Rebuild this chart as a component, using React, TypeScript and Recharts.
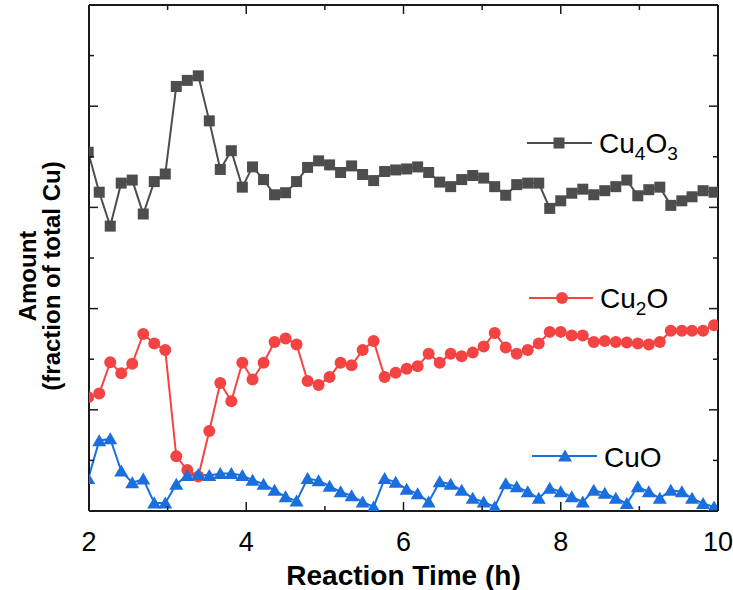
import React from "react";
import { LineChart, Line, XAxis, YAxis } from "recharts";

// reaction time (h), sampled about every 8.4 min
const times = [
  1.99, 2.13, 2.27, 2.41, 2.55, 2.69, 2.83, 2.97, 3.11, 3.25, 3.39, 3.53, 3.67, 3.81, 3.95,
  4.08, 4.22, 4.36, 4.5, 4.64, 4.78, 4.92, 5.06, 5.2, 5.34, 5.48, 5.62, 5.76, 5.9, 6.04,
  6.18, 6.32, 6.46, 6.6, 6.74, 6.88, 7.02, 7.16, 7.3, 7.44, 7.58, 7.72, 7.86, 8.0, 8.14,
  8.28, 8.42, 8.56, 8.7, 8.84, 8.98, 9.12, 9.26, 9.4, 9.54, 9.67, 9.81, 9.95,
];

// amounts in y-axis tick units (axis has 10 unlabelled divisions)
const cu4o3 = [
  7.09, 6.3, 5.63, 6.48, 6.54, 5.87, 6.51, 6.66, 8.39, 8.51, 8.6, 7.71, 6.75, 7.12, 6.4,
  6.8, 6.55, 6.25, 6.29, 6.51, 6.79, 6.92, 6.84, 6.69, 6.82, 6.65, 6.53, 6.71, 6.74, 6.76,
  6.8, 6.69, 6.5, 6.41, 6.55, 6.63, 6.58, 6.41, 6.24, 6.45, 6.48, 6.48, 5.98, 6.13, 6.28,
  6.36, 6.25, 6.33, 6.41, 6.54, 6.23, 6.35, 6.4, 6.04, 6.13, 6.21, 6.33, 6.3,
];

const cu2o = [
  2.25, 2.32, 2.94, 2.72, 2.91, 3.5, 3.31, 3.18, 1.08, 0.81, 0.68, 1.58, 2.53, 2.17, 2.93,
  2.6, 2.93, 3.34, 3.41, 3.29, 2.57, 2.49, 2.65, 2.93, 2.88, 3.18, 3.36, 2.65, 2.73, 2.81,
  2.86, 3.11, 2.93, 3.11, 3.06, 3.13, 3.25, 3.52, 3.23, 3.11, 3.18, 3.31, 3.54, 3.54, 3.47,
  3.47, 3.34, 3.36, 3.34, 3.33, 3.31, 3.29, 3.34, 3.56, 3.56, 3.56, 3.56, 3.67,
];

const cuo = [
  0.64, 1.39, 1.43, 0.79, 0.56, 0.63, 0.16, 0.16, 0.53, 0.7, 0.72, 0.7, 0.74, 0.74, 0.7,
  0.61, 0.53, 0.41, 0.28, 0.2, 0.64, 0.6, 0.49, 0.38, 0.3, 0.18, 0.08, 0.64, 0.57, 0.43,
  0.34, 0.18, 0.58, 0.53, 0.41, 0.25, 0.18, 0.08, 0.54, 0.48, 0.38, 0.25, 0.45, 0.38, 0.28,
  0.18, 0.41, 0.35, 0.25, 0.15, 0.48, 0.38, 0.25, 0.41, 0.38, 0.25, 0.15, 0.08,
];

const xTicks = [2, 3, 4, 5, 6, 7, 8, 9, 10];
const yTicks = [0, 1, 2, 3, 4, 5, 6, 7, 8, 9, 10];

const GRAY = "#4d4d4d";
const RED = "#f44343";
const BLUE = "#1a6fdf";
const AXIS = "#1a1a1a";
const FONT = "'Liberation Sans', Arial, sans-serif";

const data = times.map((t, i) => ({ t, cu4o3: cu4o3[i], cu2o: cu2o[i], cuo: cuo[i] }));

const square = (p: any) => (
  <rect key={p.index} x={p.cx - 5.5} y={p.cy - 5.5} width={11} height={11} fill={GRAY} />
);
const circle = (p: any) => <circle key={p.index} cx={p.cx} cy={p.cy} r={6} fill={RED} />;
const triangle = (p: any) => (
  <polygon
    key={p.index}
    points={`${p.cx},${p.cy - 6.5} ${p.cx - 7},${p.cy + 5.5} ${p.cx + 7},${p.cy + 5.5}`}
    fill={BLUE}
  />
);

const tickLen = (v: number) => (v % 2 === 0 ? 9 : 5);

const BottomTick = ({ x, y, payload }: any) => (
  <g>
    <line x1={x} x2={x} y1={y} y2={y - tickLen(payload.value)} stroke={AXIS} strokeWidth={1.5} />
    {payload.value % 2 === 0 && (
      <text x={x} y={y + 40} textAnchor="middle" fontSize={27} fontFamily={FONT} fill="#000">
        {payload.value}
      </text>
    )}
  </g>
);
const TopTick = ({ x, y, payload }: any) => (
  <line x1={x} x2={x} y1={y} y2={y + tickLen(payload.value)} stroke={AXIS} strokeWidth={1.5} />
);
const LeftTick = ({ x, y, payload }: any) => (
  <line x1={x} x2={x + tickLen(payload.value)} y1={y} y2={y} stroke={AXIS} strokeWidth={1.5} />
);
const RightTick = ({ x, y, payload }: any) => (
  <line x1={x} x2={x - tickLen(payload.value)} y1={y} y2={y} stroke={AXIS} strokeWidth={1.5} />
);

const axisLine = { stroke: AXIS, strokeWidth: 2 };

export default function App() {
  return (
    <div style={{ position: "absolute", left: 0, top: 0, width: 733, height: 590, background: "#fff" }}>
      <LineChart width={733} height={590} data={data} margin={{ top: 4, right: 0, bottom: 0, left: 0 }}>
        <XAxis
          dataKey="t"
          type="number"
          domain={[2, 10]}
          allowDataOverflow
          ticks={xTicks}
          interval={0}
          height={79}
          tickSize={0}
          tickMargin={0}
          tickLine={false}
          axisLine={axisLine}
          tick={<BottomTick />}
          label={{
            value: "Reaction Time (h)",
            position: "insideBottom",
            offset: 5,
            fontSize: 28,
            fontWeight: "bold",
            fontFamily: FONT,
            fill: "#000",
          }}
        />
        <XAxis
          xAxisId="top"
          dataKey="t"
          orientation="top"
          type="number"
          domain={[2, 10]}
          allowDataOverflow
          ticks={xTicks}
          interval={0}
          height={1}
          tickSize={0}
          tickMargin={0}
          tickLine={false}
          axisLine={axisLine}
          tick={<TopTick />}
        />
        <YAxis
          type="number"
          domain={[0, 10]}
          allowDataOverflow
          ticks={yTicks}
          interval={0}
          width={89}
          tickSize={0}
          tickMargin={0}
          tickLine={false}
          axisLine={axisLine}
          tick={<LeftTick />}
        />
        <YAxis
          yAxisId="right"
          orientation="right"
          type="number"
          domain={[0, 10]}
          allowDataOverflow
          ticks={yTicks}
          interval={0}
          width={15}
          tickSize={0}
          tickMargin={0}
          tickLine={false}
          axisLine={axisLine}
          tick={<RightTick />}
        />
        <Line dataKey="cu4o3" stroke={GRAY} strokeWidth={2} dot={square} isAnimationActive={false} />
        <Line dataKey="cu2o" stroke={RED} strokeWidth={2} dot={circle} isAnimationActive={false} />
        <Line
          dataKey="cuo"
          xAxisId="top"
          yAxisId="right"
          stroke={BLUE}
          strokeWidth={2}
          dot={triangle}
          isAnimationActive={false}
        />
      </LineChart>
      <svg
        width={733}
        height={590}
        style={{ position: "absolute", left: 0, top: 0, pointerEvents: "none" }}
        fontFamily={FONT}
      >
        <g transform="translate(36,276) rotate(-90)">
          <text textAnchor="middle" fontSize={24} fontWeight="bold" fill="#000">Amount</text>
        </g>
        <g transform="translate(60,276) rotate(-90)">
          <text textAnchor="middle" fontSize={24} fontWeight="bold" fill="#000">(fraction of total Cu)</text>
        </g>

        <line x1={527} x2={592} y1={143} y2={143} stroke={GRAY} strokeWidth={2} />
        <rect x={553.5} y={137.5} width={11} height={11} fill={GRAY} />
        <text x={599} y={153} fontSize={28} fill="#000">
          Cu<tspan fontSize={19} dy={7}>4</tspan>
          <tspan dy={-7}>O</tspan>
          <tspan fontSize={19} dy={7}>3</tspan>
        </text>

        <line x1={529} x2={593} y1={298} y2={298} stroke={RED} strokeWidth={2} />
        <circle cx={562} cy={298} r={6} fill={RED} />
        <text x={600} y={308} fontSize={28} fill="#000">
          Cu<tspan fontSize={19} dy={7}>2</tspan>
          <tspan dy={-7}>O</tspan>
        </text>

        <line x1={532} x2={597} y1={456} y2={456} stroke={BLUE} strokeWidth={2} />
        <polygon points="565,449.5 558,461.5 572,461.5" fill={BLUE} />
        <text x={604} y={467} fontSize={28} fill="#000">CuO</text>
      </svg>
    </div>
  );
}
